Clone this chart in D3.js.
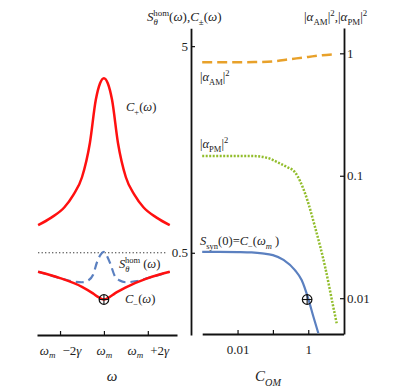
<html>
<head>
<script src="https://d3js.org/d3.v7.min.js"></script>
<style>
  body { margin: 0; background: #fff; }
  text { font-family: "Liberation Serif", "DejaVu Serif", serif; fill: #222; }
</style>
</head>
<body>
<script>
// left panel: frequency offset from omega_m, in units of gamma
var omegaOff = [-3, -2.4, -1.8, -1.4, -1, -0.64, -0.37, -0.18, 0, 0.18, 0.37, 0.64, 1, 1.4, 1.8, 2.4, 3];
var cPlus    = [0.68, 0.74, 0.83, 0.95, 1.16, 1.7, 2.75, 3.3, 3.5, 3.3, 2.75, 1.7, 1.16, 0.95, 0.83, 0.74, 0.68];
var minusOff = [-3, -2, -1, -0.5, -0.25, 0, 0.25, 0.5, 1, 2, 3];
var cMinus   = [0.405, 0.377, 0.342, 0.318, 0.305, 0.297, 0.305, 0.318, 0.34, 0.377, 0.405];
var homOff   = [-3, -2, -1.5, -1, -0.7, -0.5, -0.3, -0.15, 0, 0.15, 0.3, 0.5, 0.7, 1, 1.5, 2, 3];
var sHom     = [0.405, 0.377, 0.365, 0.36, 0.368, 0.39, 0.455, 0.49, 0.505, 0.48, 0.44, 0.385, 0.368, 0.36, 0.365, 0.377, 0.405];
var refLevel = 0.5;
var omegaTicks = [-2, 0, 2];

// right panel: C_OM (log)
var cSyn   = [0.001, 0.003, 0.01, 0.025, 0.05, 0.1, 0.2, 0.42, 0.65, 1, 1.4, 1.93];
var sSyn   = [0.505, 0.505, 0.504, 0.502, 0.497, 0.487, 0.462, 0.412, 0.369, 0.3, 0.245, 0.204];
var cAM    = [0.001, 0.01, 0.03, 0.1, 0.3, 1, 2.5, 5];
var alphaAM = [0.845, 0.845, 0.848, 0.86, 0.895, 0.935, 0.965, 0.98];
var cPM    = [0.001, 0.01, 0.025, 0.07, 0.142, 0.25, 0.42, 0.81, 1.56, 3.0, 5.1, 6.4];
var alphaPM = [0.145, 0.145, 0.145, 0.14, 0.128, 0.118, 0.107, 0.072, 0.038, 0.018, 0.0085, 0.0062];
var cTicks = [0.01, 0.1, 1];
var leftTicks = [5, 0.5];
var rightTicks = [1, 0.1, 0.01];
var markers = [{panel: "L", x: 0, y: 0.297}, {panel: "R", x: 0.93, y: 0.297}];

var w = 415, h = 390;
var svg = d3.select("body").append("svg").attr("width", w).attr("height", h);

// scales
var xL = d3.scaleLinear().domain([-3.05, 3.33]).range([37, 177]);
var yS = d3.scaleLog().domain([0.2, 6.1]).range([335, 28.3]);
var xC = d3.scaleLog().domain([0.001, 10]).range([202.2, 343.6]);
var yA = d3.scaleLog().domain([0.0051, 1.61]).range([334, 28]);

function styleAxis(g) {
  g.select(".domain").attr("stroke", "#111").attr("stroke-width", 1.8);
  g.selectAll(".tick line").attr("stroke", "#111").attr("stroke-width", 1.2);
  g.selectAll("text").attr("font-size", 13).attr("font-family", "Liberation Serif").attr("fill", "#222");
}

// left x axis
var gxL = svg.append("g").attr("transform", "translate(0,335)")
  .call(d3.axisBottom(xL).tickValues(omegaTicks).tickSize(-4).tickSizeOuter(0).tickPadding(11).tickFormat(""));
styleAxis(gxL);
gxL.selectAll(".tick text").each(function(d) {
  var t = d3.select(this);
  t.append("tspan").attr("font-style", "italic").text("ω");
  t.append("tspan").attr("font-style", "italic").attr("font-size", 9).attr("dy", 3).text("m");
  if (d !== 0) {
    t.append("tspan").attr("dy", -3).attr("dx", 7).text(d < 0 ? "−2" : "+2");
    t.append("tspan").attr("font-style", "italic").text("γ");
  }
});

// left y axis (shared log axis)
var gyS = svg.append("g").attr("transform", "translate(191,0)")
  .call(d3.axisLeft(yS).tickValues(leftTicks).tickSize(-4).tickSizeOuter(0).tickPadding(3).tickFormat(d3.format("")));
styleAxis(gyS);

// right panel x axis
var gxC = svg.append("g").attr("transform", "translate(0,334)")
  .call(d3.axisBottom(xC).tickValues(cTicks).tickSize(-4).tickSizeOuter(0).tickPadding(11)
    .tickFormat(function(d) { return d === 0.1 ? "" : d3.format("")(d); }));
styleAxis(gxC);

// right y axis
var gyA = svg.append("g").attr("transform", "translate(344,0)")
  .call(d3.axisRight(yA).tickValues(rightTicks).tickSize(-4).tickSizeOuter(0).tickPadding(3).tickFormat(d3.format("")));
styleAxis(gyA);

function zip(xs, ys) { return xs.map(function(x, i) { return [x, ys[i]]; }); }

var lineL = d3.line().x(function(d) { return xL(d[0]); }).y(function(d) { return yS(d[1]); }).curve(d3.curveMonotoneX);
var lineSyn = d3.line().x(function(d) { return xC(d[0]); }).y(function(d) { return yS(d[1]); }).curve(d3.curveMonotoneX);
var lineA = d3.line().x(function(d) { return xC(d[0]); }).y(function(d) { return yA(d[1]); }).curve(d3.curveMonotoneX);

// dotted reference at 0.5
svg.append("line")
  .attr("x1", xL(-3)).attr("x2", xL(2.85))
  .attr("y1", yS(refLevel)).attr("y2", yS(refLevel))
  .attr("stroke", "#222").attr("stroke-width", 1).attr("stroke-dasharray", "1.2,2.3");

// left panel curves
svg.append("path").datum(zip(homOff, sHom)).attr("d", lineL)
  .attr("fill", "none").attr("stroke", "#5b80c0").attr("stroke-width", 2.2).attr("stroke-dasharray", "8,5");
svg.append("path").datum(zip(omegaOff, cPlus)).attr("d", lineL)
  .attr("fill", "none").attr("stroke", "#ff1010").attr("stroke-width", 2.5);
svg.append("path").datum(zip(minusOff, cMinus)).attr("d", lineL)
  .attr("fill", "none").attr("stroke", "#ff1010").attr("stroke-width", 2.5);

// right panel curves
svg.append("path").datum(zip(cAM, alphaAM)).attr("d", lineA)
  .attr("fill", "none").attr("stroke", "#e8a12a").attr("stroke-width", 2.5).attr("stroke-dasharray", "10,5");
svg.append("path").datum(zip(cPM, alphaPM)).attr("d", lineA)
  .attr("fill", "none").attr("stroke", "#92bd2c").attr("stroke-width", 2.5).attr("stroke-dasharray", "2,1.5");
svg.append("path").datum(zip(cSyn, sSyn)).attr("d", lineSyn)
  .attr("fill", "none").attr("stroke", "#5b80c0").attr("stroke-width", 2.2);

// circle-plus markers
var mk = svg.selectAll("g.mk").data(markers).enter().append("g").attr("class", "mk")
  .attr("transform", function(d) {
    var px = d.panel === "L" ? xL(d.x) : xC(d.x);
    return "translate(" + px + "," + yS(d.y) + ")";
  });
mk.append("circle").attr("r", 4.8).attr("fill", "none").attr("stroke", "#111").attr("stroke-width", 1.2);
mk.append("line").attr("x1", -4.8).attr("x2", 4.8).attr("stroke", "#111").attr("stroke-width", 1.1);
mk.append("line").attr("y1", -4.8).attr("y2", 4.8).attr("stroke", "#111").attr("stroke-width", 1.1);

// rich text helper
function rich(x, y, parts, size, anchor) {
  var t = svg.append("text").attr("x", x).attr("y", y).attr("font-size", size)
    .attr("text-anchor", anchor || "start");
  var cur = 0;
  parts.forEach(function(p) {
    var off = p.sub ? size * 0.3 : (p.sup ? -size * 0.42 : 0);
    var ts = t.append("tspan").attr("dy", off - cur)
      .attr("font-size", (p.sub || p.sup) ? size * 0.68 : size)
      .attr("font-style", p.i ? "italic" : "normal")
      .text(p.t);
    if (p.dx) ts.attr("dx", p.dx);
    cur = off;
  });
  return t;
}

// axis titles
rich(112, 381, [{t: "ω", i: true}], 15, "middle");
rich(268, 381, [{t: "C", i: true}, {t: "OM", i: true, sub: true}], 15, "middle");

rich(147, 21, [{t: "S", i: true}, {t: "θ", i: true, sub: true}, {t: "hom", sup: true, dx: -4.5}, {t: "("}, {t: "ω", i: true},
  {t: "),"}, {t: "C", i: true}, {t: "±", sub: true}, {t: "("}, {t: "ω", i: true}, {t: ")"}], 13);
rich(304, 21, [{t: "|"}, {t: "α", i: true}, {t: "AM", sub: true}, {t: "|"}, {t: "2", sup: true}, {t: ","},
  {t: "|"}, {t: "α", i: true}, {t: "PM", sub: true}, {t: "|"}, {t: "2", sup: true}], 13);

// in-plot labels
rich(126, 111, [{t: "C", i: true}, {t: "+", sub: true}, {t: "("}, {t: "ω", i: true}, {t: ")"}], 12.5);
rich(119, 268, [{t: "S", i: true}, {t: "θ", i: true, sub: true}, {t: "hom", sup: true, dx: -4.5}, {t: "  ("}, {t: "ω", i: true}, {t: ")"}], 12.5);
rich(125, 303, [{t: "C", i: true}, {t: "−", sub: true}, {t: "("}, {t: "ω", i: true}, {t: ")"}], 12.5);
rich(200, 81, [{t: "|"}, {t: "α", i: true}, {t: "AM", sub: true}, {t: "|"}, {t: "2", sup: true}], 12.5);
rich(200, 148, [{t: "|"}, {t: "α", i: true}, {t: "PM", sub: true}, {t: "|"}, {t: "2", sup: true}], 12.5);
rich(200, 245, [{t: "S", i: true}, {t: "syn", sub: true}, {t: "(0)="}, {t: "C", i: true}, {t: "−", sub: true},
  {t: "("}, {t: "ω", i: true}, {t: "m", i: true, sub: true}, {t: "  )"}], 12.5);
</script>
</body>
</html>
